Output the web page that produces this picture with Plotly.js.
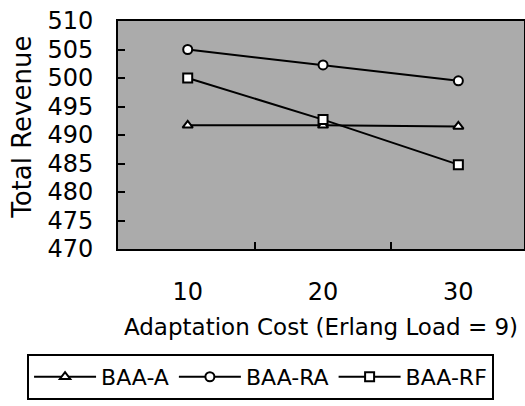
<!DOCTYPE html>
<html>
<head>
<meta charset="utf-8">
<script src="https://cdn.plot.ly/plotly-3.0.1.min.js"></script>
<style>html,body{margin:0;padding:0;background:#fff;}#chart{width:525px;height:406px;}</style>
</head>
<body>
<div id="chart"></div>
<script>
const adaptationCost = [10, 20, 30];
const baaA  = [491.7, 491.7, 491.5];
const baaRA = [505.0, 502.3, 499.5];
const baaRF = [500.0, 492.7, 484.8];
const seriesNames = ['BAA-A', 'BAA-RA', 'BAA-RF'];
const yTicks = [470, 475, 480, 485, 490, 495, 500, 505, 510];
const xGridTicks = [15, 25];

const FONT = 'DejaVu Sans, Arial, sans-serif';
function trace(name, y, symbol) {
  return {
    x: adaptationCost, y: y, name: name, type: 'scatter', mode: 'lines+markers',
    line: {color: '#000', width: 2},
    marker: {symbol: symbol, size: 9, color: '#fff', line: {color: '#000', width: 2}}
  };
}
const data = [
  trace(seriesNames[0], baaA, 'triangle-up'),
  trace(seriesNames[1], baaRA, 'circle'),
  trace(seriesNames[2], baaRF, 'square')
];
const layout = {
  width: 525, height: 406,
  margin: {l: 118, r: 1, t: 21, b: 157},
  paper_bgcolor: '#fff', plot_bgcolor: '#ababab',
  font: {family: FONT, color: '#000'},
  showlegend: true,
  legend: {
    orientation: 'h', x: -0.224, xanchor: 'left', y: -0.662, yanchor: 'bottom',
    bordercolor: '#000', borderwidth: 2, bgcolor: '#fff',
    font: {size: 22, family: FONT}, itemwidth: 62, traceorder: 'normal'
  },
  xaxis: {
    type: 'linear', range: [4.85, 34.85], tickvals: adaptationCost,
    ticktext: adaptationCost.map(String), ticks: '', showgrid: false, zeroline: false,
    showline: true, linecolor: '#000', linewidth: 2, mirror: true,
    tickfont: {size: 24, family: FONT}, ticklabelstandoff: 20,
    title: {text: 'Adaptation Cost (Erlang Load = 9)', font: {size: 23, family: FONT}, standoff: 14}
  },
  xaxis2: {
    type: 'linear', overlaying: 'x', matches: 'x', range: [4.85, 34.85], tickvals: xGridTicks,
    showticklabels: false, ticks: 'inside', ticklen: 7, tickwidth: 2, tickcolor: '#000',
    showgrid: false, zeroline: false, side: 'bottom'
  },
  yaxis: {
    range: [470, 510], tickvals: yTicks, ticks: 'inside', ticklen: 7, tickwidth: 2, tickcolor: '#000',
    showgrid: false, zeroline: false, showline: true, linecolor: '#000', linewidth: 2, mirror: true,
    tickfont: {size: 24, family: FONT}, ticklabelstandoff: 18
  },
  annotations: [{
    text: 'Total Revenue', textangle: -90, xref: 'paper', yref: 'paper',
    x: -0.237, y: 0.535, xanchor: 'center', yanchor: 'middle', showarrow: false,
    font: {size: 26, family: FONT, color: '#000'}
  }]
};
// invisible helper trace so the secondary x axis (minor tick marks) is drawn
data.push({x: [adaptationCost[0]], y: [baaA[0]], xaxis: 'x2', mode: 'markers', marker: {opacity: 0}, showlegend: false, hoverinfo: 'skip'});
Plotly.newPlot('chart', data, layout, {displayModeBar: false, staticPlot: true});
</script>
</body>
</html>
